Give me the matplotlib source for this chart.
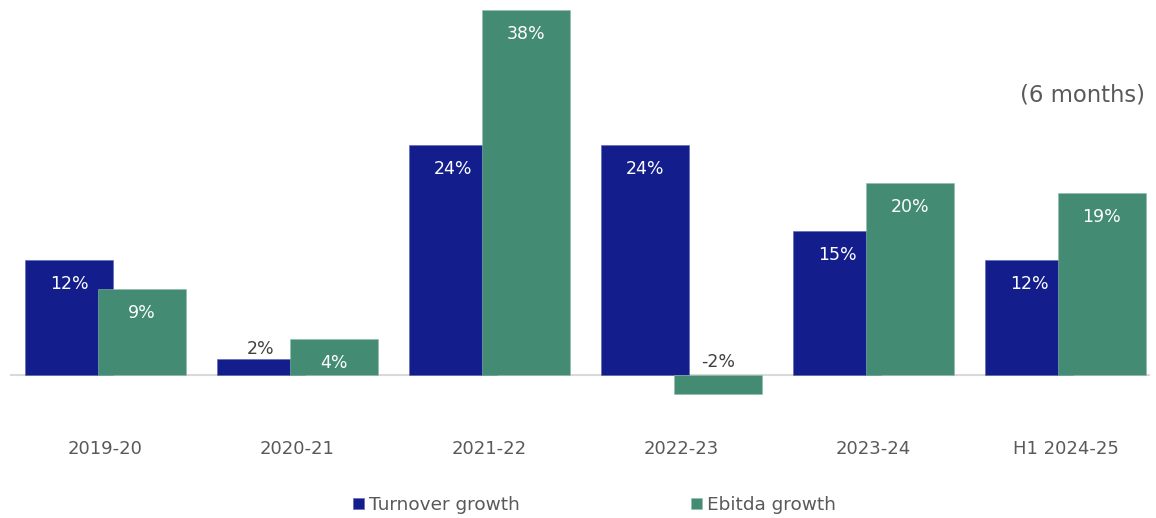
import matplotlib.pyplot as plt
import numpy as np

# Data
categories = ['2019-20', '2020-21', '2021-22', '2022-23', '2023-24', 'H1 2024-25']
turnover = [12.0, 1.7, 24.0, 24.0, 15.0, 12.0]
ebitda = [9.0, 3.75, 38.0, -2.0, 20.0, 19.0]
turnover_labels = ['12%', '2%', '24%', '24%', '15%', '12%']
ebitda_labels = ['9%', '4%', '38%', '-2%', '20%', '19%']

blue = '#131E8C'
green = '#438B73'

plt.rcParams['font.family'] = ['DejaVu Sans']

W, H = 1156, 518
fig = plt.figure(figsize=(W / 100, H / 100), dpi=100)
ax = fig.add_axes([10 / W, 118 / H, 1140 / W, 400 / H])

x = np.arange(len(categories))
unit = 192.0  # px per category
bw = 88 / unit
t_left = x - 80.5 / unit
e_left = x - 7.5 / unit

tb = ax.bar(t_left, turnover, bw, align='edge', color=blue, edgecolor='#5a63b0',
            linewidth=0.4, label='Turnover growth', zorder=2)
eb = ax.bar(e_left, ebitda, bw, align='edge', color=green, edgecolor='#8fbcab',
            linewidth=0.4, label='Ebitda growth', zorder=3)

ax.axhline(0, color='#D9D9D9', linewidth=1.5, zorder=1)

ax.set_xlim(-95.5 / unit, -95.5 / unit + 1140 / unit)
ax.set_ylim(-25 / 9.6, 375 / 9.6)

# value labels
for rects, labels in ((tb, turnover_labels), (eb, ebitda_labels)):
    for rect, lab in zip(rects, labels):
        h = rect.get_height()
        cx = rect.get_x() + rect.get_width() / 2
        if h > 3:
            ax.annotate(lab, (cx, h), xytext=(0, -24 * 0.72), textcoords='offset points',
                        ha='center', va='center', color='white', fontsize=12.5, zorder=5)
        elif h > 0:
            ax.annotate(lab, (cx, h), xytext=(0, 10 * 0.72), textcoords='offset points',
                        ha='center', va='center', color='#404040', fontsize=12.5, zorder=5)
        else:
            ax.annotate(lab, (cx, 0), xytext=(0, 13 * 0.72), textcoords='offset points',
                        ha='center', va='center', color='#404040', fontsize=12.5, zorder=5)

ax.set_xticks(x)
ax.set_xticklabels(categories, fontsize=13, color='#595959')
ax.tick_params(axis='x', length=0, pad=29)
ax.set_yticks([])
for s in ax.spines.values():
    s.set_visible(False)

fig.text(1145 / W, 1 - 95 / H, '(6 months)', ha='right', va='center',
         fontsize=16.4, color='#595959')

leg = fig.legend(handles=[tb, eb], loc='center', bbox_to_anchor=(594.5 / W, 1 - 505 / H),
                 ncol=2, frameon=False, fontsize=13.3, handlelength=0.6, handleheight=0.6,
                 handletextpad=0.25, columnspacing=9.3)
for t in leg.get_texts():
    t.set_color('#595959')

fig.savefig('out.png', dpi=100)
